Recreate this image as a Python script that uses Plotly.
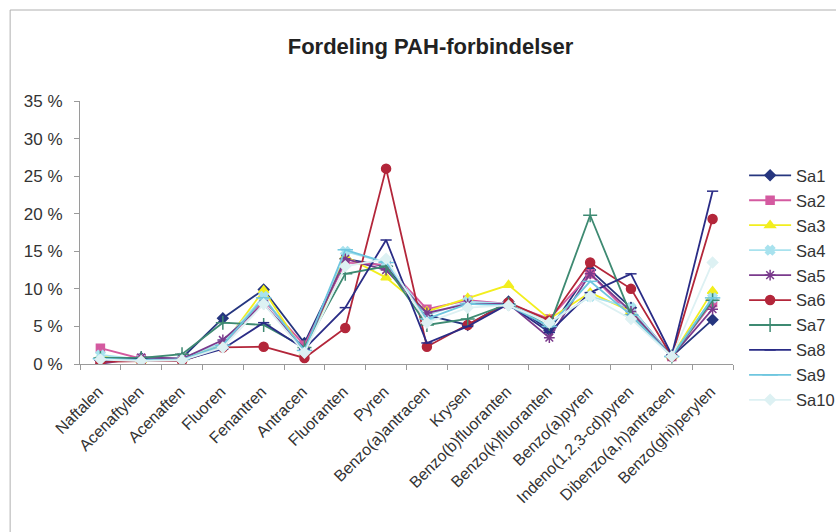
import plotly.graph_objects as go

categories = ["Naftalen", "Acenaftylen", "Acenaften", "Fluoren", "Fenantren", "Antracen",
              "Fluoranten", "Pyren", "Benzo(a)antracen", "Krysen", "Benzo(b)fluoranten",
              "Benzo(k)fluoranten", "Benzo(a)pyren", "Indeno(1,2,3-cd)pyren",
              "Dibenzo(a,h)antracen", "Benzo(ghi)perylen"]

sa1 = [0.5, 0.8, 0.8, 6.1, 9.9, 2.8, 14.0, 13.0, 6.5, 5.2, 8.3, 4.5, 12.5, 7.5, 1.0, 5.9]
sa2 = [2.1, 0.7, 0.8, 2.5, 8.5, 2.5, 13.5, 13.2, 7.3, 8.5, 8.0, 6.0, 12.0, 6.5, 1.0, 8.2]
sa3 = [1.0, 0.5, 0.7, 2.5, 9.8, 1.5, 14.3, 11.5, 7.0, 8.8, 10.5, 6.0, 9.5, 7.0, 1.0, 9.7]
sa4 = [1.2, 0.6, 0.8, 2.8, 9.0, 1.5, 15.0, 13.5, 6.5, 8.3, 8.0, 5.5, 9.0, 7.5, 1.0, 8.8]
sa5 = [0.0, 0.9, 0.7, 3.2, 8.0, 2.0, 14.0, 12.5, 6.8, 8.0, 8.0, 3.5, 12.0, 7.0, 1.0, 7.3]
sa6 = [0.3, 0.4, 0.4, 2.2, 2.3, 0.8, 4.8, 26.0, 2.3, 5.2, 8.2, 5.8, 13.5, 10.0, 1.0, 19.3]
sa7 = [0.8, 0.8, 1.3, 5.5, 5.2, 2.2, 12.0, 13.0, 5.2, 6.0, 8.0, 5.0, 19.8, 6.5, 1.0, 8.5]
sa8 = [0.5, 0.6, 0.5, 2.0, 5.5, 2.0, 7.5, 16.5, 2.8, 5.0, 8.0, 4.2, 9.5, 12.0, 1.2, 23.0]
sa9 = [0.7, 0.5, 0.6, 2.5, 8.8, 1.8, 15.2, 13.5, 6.0, 8.0, 7.8, 5.0, 11.0, 6.5, 1.0, 8.8]
sa10 = [0.6, 0.4, 0.5, 2.2, 8.0, 1.5, 13.0, 14.0, 5.5, 7.5, 7.8, 5.5, 9.0, 6.0, 1.0, 13.5]

series_names = ["Sa1", "Sa2", "Sa3", "Sa4", "Sa5", "Sa6", "Sa7", "Sa8", "Sa9", "Sa10"]
series_values = [sa1, sa2, sa3, sa4, sa5, sa6, sa7, sa8, sa9, sa10]

y_tickvals = [0, 5, 10, 15, 20, 25, 30, 35]
y_ticktext = ["0 %", "5 %", "10 %", "15 %", "20 %", "25 %", "30 %", "35 %"]

colors = ["#26367F", "#D45AA0", "#F2EE1E", "#A8E2EE", "#7A3A8C",
          "#B3263A", "#3E8A72", "#2A2C86", "#6FC6DF", "#DDF1F3"]
symbols = ["diamond", "square", "triangle-up", "x", "asterisk-open",
           "circle", "cross-thin-open", "line-ew-open", "line-ew-open", "diamond"]
sizes = [8, 8, 9, 8, 9, 9, 10, 8, 11, 8]

fig = go.Figure()
for i, (name, vals) in enumerate(zip(series_names, series_values)):
    fig.add_trace(go.Scatter(
        x=categories, y=vals, name=name, mode="lines+markers",
        legendgroup=name,
        line=dict(color=colors[i], width=1.8),
        marker=dict(symbol=symbols[i], size=sizes[i], color=colors[i],
                    line=dict(color=colors[i], width=1.5)),
    ))

fig.update_layout(
    width=836, height=532,
    margin=dict(l=80, r=103, t=101, b=168, autoexpand=False),
    paper_bgcolor="white", plot_bgcolor="white",
    font=dict(family="Liberation Sans, Arial, sans-serif", size=16, color="#333333"),
    title=dict(text="<b>Fordeling PAH-forbindelser</b>", x=0.515, xanchor="center",
               y=0.913, yanchor="middle", font=dict(size=22, color="#222222")),
    showlegend=True,
    legend=dict(x=1.017, y=0.783, xanchor="left", yanchor="top",
                font=dict(size=16.5, color="#333333"), tracegroupgap=0.5,
                traceorder="grouped", bgcolor="rgba(0,0,0,0)", itemwidth=42),
    xaxis=dict(type="category", tickangle=-45, showline=True, linecolor="#9a9a9a",
               ticks="outside", tickson="boundaries", ticklen=5, tickcolor="#9a9a9a",
               showgrid=False, tickfont=dict(size=16, color="#333333"),
               range=[-0.5, 15.5], automargin=False, ticklabelstandoff=11,
               ticklabelshift=-2),
    yaxis=dict(range=[0, 35], tickvals=y_tickvals, ticktext=y_ticktext,
               showline=True, linecolor="#9a9a9a", ticks="outside", ticklen=5,
               tickcolor="#9a9a9a", showgrid=False, zeroline=False,
               tickfont=dict(size=17, color="#333333"), automargin=False,
               ticklabelstandoff=8),
    shapes=[
        dict(type="line", xref="paper", yref="paper", x0=-0.107, x1=-0.107,
             y0=-0.7, y1=1.346, line=dict(color="#b0b0b0", width=1)),
        dict(type="line", xref="paper", yref="paper", x0=-0.107, x1=1.2,
             y0=1.346, y1=1.346, line=dict(color="#b0b0b0", width=1)),
    ],
)

fig.write_html("out.html", config={"displayModeBar": False},
               post_script="document.body.style.margin='0';")
